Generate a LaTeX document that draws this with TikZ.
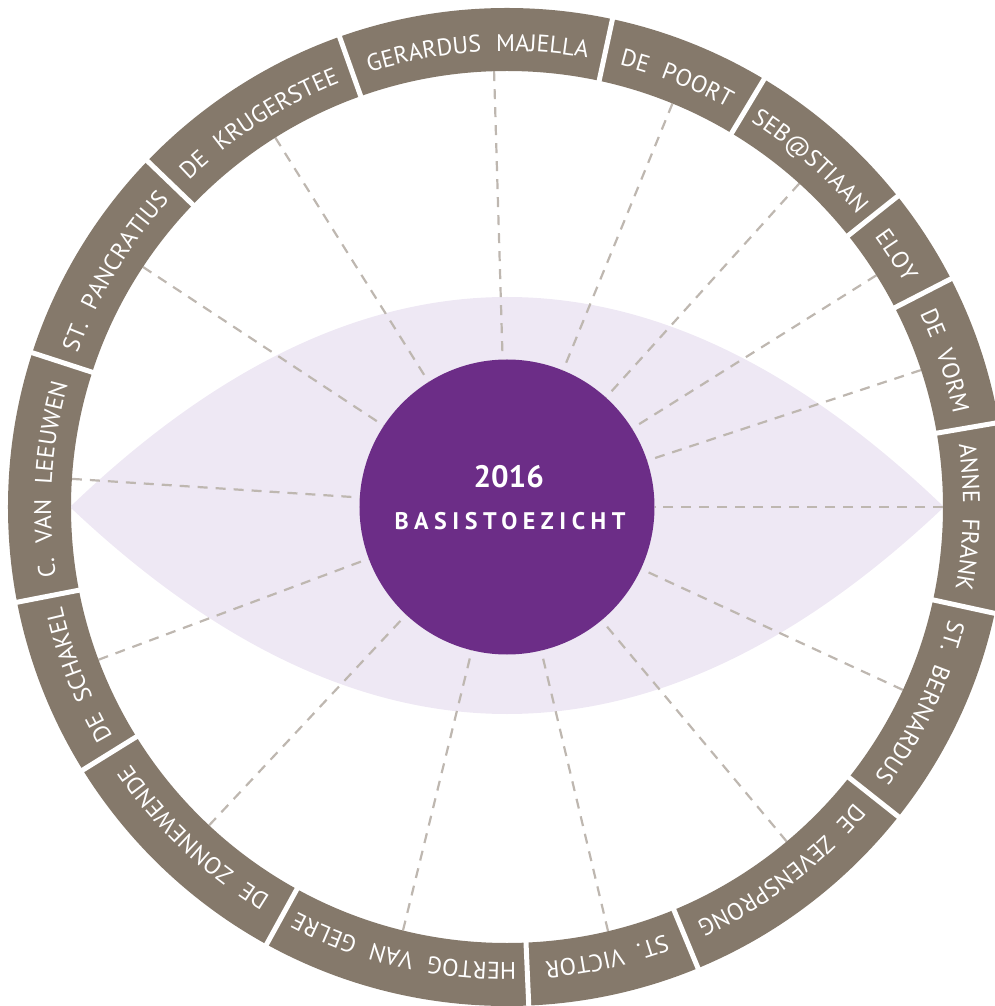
\documentclass[tikz,border=0pt]{standalone}
\usepackage{fontspec}
\setmainfont{PT Sans}
\newfontfamily\ringfont{PT Sans}[LetterSpace=3.5, WordSpace=2.0]
\newfontfamily\hubfont{PT Sans}
\usetikzlibrary{decorations.text}
\definecolor{ringc}{RGB}{133,121,107}
\definecolor{eyec}{RGB}{238,232,244}
\definecolor{hubc}{RGB}{108,45,135}
\definecolor{dashc}{RGB}{190,183,176}
\def\rtr{456}
\def\rtfont{\ringfont\fontsize{24}{27}\selectfont}
\tikzset{
  gapline/.style={white, line width=5pt},
  spoke/.style={dashc, line width=2.2pt, dash pattern=on 10pt off 8pt},
  hubtext/.style={anchor=base, inner sep=0pt, text=white},
}
\newcommand\ringtext[2]{%
  \pgfmathsetmacro\rtsa{#1+50}%
  \pgfmathsetmacro\rtea{#1-50}%
  \path[decorate, decoration={text along path, text={|\rtfont|#2},
      text align=center, text color=white}]
    (\rtsa:\rtr) arc[start angle=\rtsa, end angle=\rtea, radius=\rtr];
}
\begin{document}
\begin{tikzpicture}[x=1pt,y=1pt]
\useasboundingbox (-507,-499) rectangle (488,507);
\clip (-507,-499) rectangle (488,507);
% eye
\fill[eyec] (-437,0) .. controls (-145.67,280) and (145.67,280) .. (437,0)
  .. controls (145.67,-276) and (-145.67,-276) .. cycle;
% hub
\node[circle, fill=hubc, minimum size=295pt, inner sep=0pt] (hub) at (0,0) {};
% spokes
\foreach \a [count=\i] in {0,18.3,32.1,47.9,67.7,91.7,122.1,146.6,176.3,200.5,226.9,256.2,283.4,309.9,335.2}{
  \coordinate (s\i) at (\a:436);
  \draw[spoke] (s\i) -- (hub);
}
% ring
\fill[ringc, even odd rule] (0,0) circle[radius=499] (0,0) circle[radius=436];
\foreach \a in {109.6,77.8,59,38.5,27.2,9.75,-12.3,-38.35,-67.5,-87.5,-118.8,-148.2,-169,162,136.1}{
  \draw[gapline] (\a:428) -- (\a:506);
}
% labels
\ringtext{93.7}{GERARDUS MAJELLA}
\ringtext{68.4}{DE POORT}
\ringtext{48.75}{SEB@STIAAN}
\ringtext{32.85}{ELOY}
\ringtext{18.475}{DE VORM}
\ringtext{-1.275}{ANNE FRANK}
\ringtext{-25.325}{ST. BERNARDUS}
\ringtext{-52.925}{DE ZEVENSPRONG}
\ringtext{-77.5}{ST. VICTOR}
\ringtext{-103.15}{HERTOG VAN GELRE}
\ringtext{-133.5}{DE ZONNEWENDE}
\ringtext{-158.6}{DE SCHAKEL}
\ringtext{176.5}{C. VAN LEEUWEN}
\ringtext{149.05}{ST. PANCRATIUS}
\ringtext{122.85}{DE KRUGERSTEE}
% hub text
\node[hubtext, font={\hubfont\bfseries\fontsize{31}{34}\selectfont}] (year) at (1.7,19) {2016};
\node[hubtext, font={\hubfont\bfseries\fontsize{24}{27}\selectfont}] (title) at (3,-23) {\addfontfeature{LetterSpace=23}BASISTOEZICHT};
\end{tikzpicture}
\end{document}
